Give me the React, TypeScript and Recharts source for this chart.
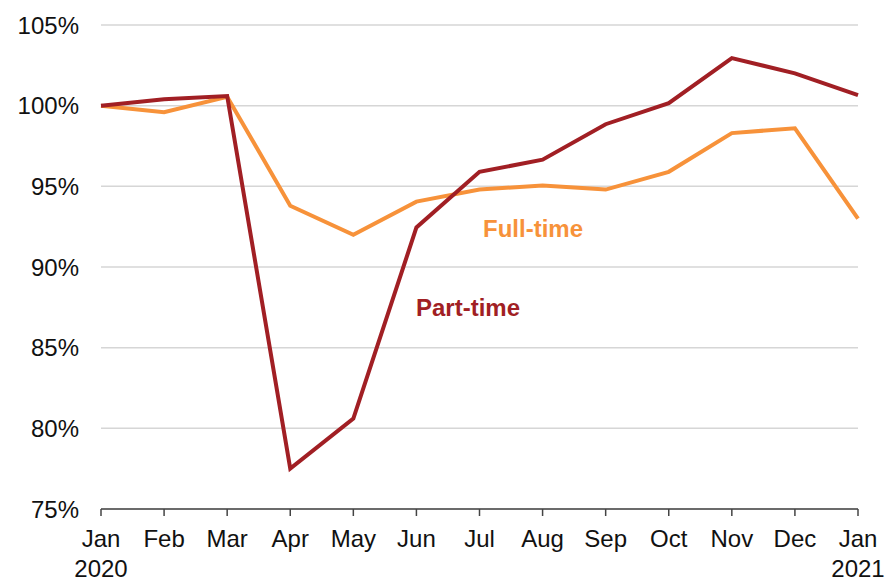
import React from "react";
import { LineChart, Line, XAxis, YAxis, CartesianGrid, Customized } from "recharts";

const months = ["Jan", "Feb", "Mar", "Apr", "May", "Jun", "Jul", "Aug", "Sep", "Oct", "Nov", "Dec", "Jan "];
const years = ["2020", "", "", "", "", "", "", "", "", "", "", "", "2021"];
const fullTime = [100, 99.6, 100.55, 93.8, 92.0, 94.05, 94.8, 95.05, 94.8, 95.9, 98.3, 98.6, 93.0];
const partTime = [100, 100.4, 100.6, 77.5, 80.6, 92.45, 95.9, 96.65, 98.85, 100.15, 102.95, 102.0, 100.65];
const yTicks = [75, 80, 85, 90, 95, 100, 105];

const data = months.map((m, i) => ({ month: m, year: years[i], full: fullTime[i], part: partTime[i] }));

const FONT = "'Liberation Sans', Arial, Helvetica, sans-serif";
const ORANGE = "#F7923A";
const RED = "#A11F24";

const XTick = (props: any) => {
  const { x, y, payload, index } = props;
  const yr = years[index] || "";
  return (
    <g>
      <text x={x} y={y + 28.5} textAnchor="middle" fontSize={24} fontFamily={FONT} fill="#111">
        {String(payload.value).trim()}
      </text>
      {yr && (
        <text x={x} y={y + 58.5} textAnchor="middle" fontSize={24} fontFamily={FONT} fill="#111">
          {yr}
        </text>
      )}
    </g>
  );
};

const Labels = () => (
  <g fontFamily={FONT} fontWeight="bold" fontSize={24}>
    <text x={533} y={237} textAnchor="middle" fill={ORANGE}>Full-time</text>
    <text x={468} y={316} textAnchor="middle" fill={RED}>Part-time</text>
  </g>
);

export default function App() {
  return (
    <div style={{ width: 888, height: 581, background: "#fff" }}>
      <style>{"body{margin:0;}"}</style>
      <LineChart width={888} height={581} data={data} margin={{ top: 25, right: 30, bottom: 0, left: 0 }}>
        <CartesianGrid vertical={false} stroke="#d6d6d6" strokeWidth={1.5} />
        <XAxis
          dataKey="month"
          interval={0}
          tick={<XTick />}
          axisLine={{ stroke: "#444", strokeWidth: 1.5 }}
          tickLine={{ stroke: "#444", strokeWidth: 1.5 }}
          tickSize={7}
          height={72}
        />
        <YAxis
          width={101}
          domain={[75, 105]}
          ticks={yTicks}
          tickFormatter={(v: number) => `${v}%`}
          axisLine={false}
          tickLine={false}
          tickMargin={16}
          tick={{ fontSize: 24, fontFamily: FONT, fill: "#111" }}
        />
        <Line dataKey="full" stroke={ORANGE} strokeWidth={4} dot={false} isAnimationActive={false} strokeLinejoin="miter" />
        <Line dataKey="part" stroke={RED} strokeWidth={4} dot={false} isAnimationActive={false} strokeLinejoin="miter" />
        <Customized component={Labels} />
      </LineChart>
    </div>
  );
}
